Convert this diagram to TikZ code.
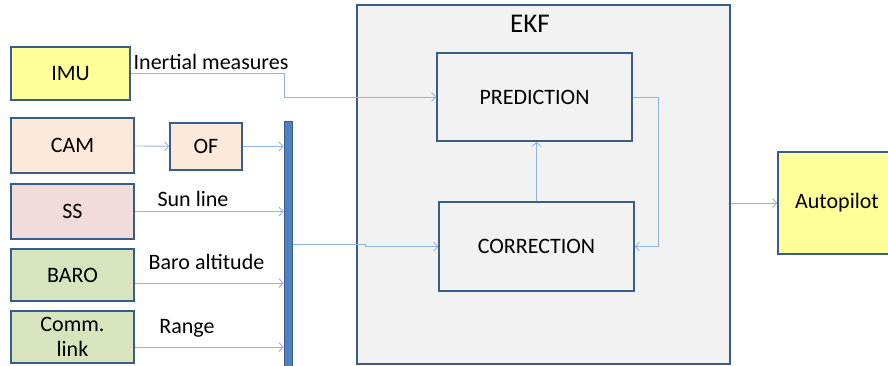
\documentclass[tikz,border=0pt]{standalone}
\usepackage{fontspec}
\setmainfont{Carlito}
\usetikzlibrary{arrows.meta}
\definecolor{boxline}{HTML}{385D8A}
\definecolor{flowline}{HTML}{8EB4E3}
\definecolor{busblue}{HTML}{4F81BD}
\definecolor{ekfgray}{HTML}{F2F2F2}
\definecolor{imuyellow}{HTML}{FFFF99}
\definecolor{campeach}{HTML}{FDE9D9}
\definecolor{sspink}{HTML}{F2DCDB}
\definecolor{barogreen}{HTML}{D7E4BD}
\begin{document}
\begin{tikzpicture}[x=1pt, y=-1pt, font=\fontsize{22}{25}\selectfont,
          >={Straight Barb[length=4pt,width=9pt]},
          block/.style={draw=boxline, line width=1.6pt, inner sep=0pt, align=center},
          flow/.style={->, draw=flowline, line width=0.9pt},
          lbl/.style={anchor=base, inner sep=0pt}]
        \useasboundingbox (0,0) rectangle (888,365);
        \node[block, fill=ekfgray, minimum width=373, minimum height=359] (ekf) at (543.5,184.5) {};
        \node[lbl, font=\fontsize{27}{30}\selectfont] (ekflabel) at (530,32) {EKF};
        \node[block, fill=ekfgray, minimum width=195, minimum height=88] (pred) at (534.5,97) {PREDICTION};
        \node[block, fill=ekfgray, minimum width=195, minimum height=89] (corr) at (536.5,246.5) {CORRECTION};
        \node[block, fill=imuyellow, minimum width=118, minimum height=102] (auto) at (837,203) {Autopilot};
        \node[block, fill=imuyellow, minimum width=119, minimum height=53] (imu) at (70.5,73.5) {IMU};
        \node[block, fill=campeach, minimum width=123, minimum height=55] (cam) at (72.5,145.5) {CAM};
        \node[block, fill=campeach, minimum width=72, minimum height=47] (of) at (206,146.5) {OF};
        \node[block, fill=sspink, minimum width=123, minimum height=55] (ss) at (72.5,211.5) {SS};
        \node[block, fill=barogreen, minimum width=123, minimum height=52] (baro) at (72.5,275) {BARO};
        \node[block, fill=barogreen, minimum width=123, minimum height=52] (comm) at (72.5,337) {Comm.\\link};
        \node[block, fill=busblue, line width=1pt, minimum width=8, minimum height=246] (bus) at (288,244) {};
        \node[lbl] (inertial) at (211,69) {Inertial measures};
        \node[lbl] (sunline) at (193,206) {Sun line};
        \node[lbl] (baroalt) at (206.5,269) {Baro altitude};
        \node[lbl] (range) at (187,333) {Range};
        \draw[flow] (imu.east) -- ++(154,0) |- (pred.west);
        \draw[flow] (cam) -- (of);
        \draw[flow] (of.east) -- (of.east -| bus.west);
        \draw[flow] (ss.east) -- (ss.east -| bus.west);
        \draw[flow] ([yshift=-8pt]baro.east) -- ([yshift=-8pt]baro.east -| bus.west);
        \draw[flow] ([yshift=-10pt]comm.east) -- ([yshift=-10pt]comm.east -| bus.west);
        \draw[flow] (bus.east |- 0,244) -- (365,244) |- (corr.west);
        \draw[flow] (corr.north) -- (corr.north |- pred.south);
        \draw[flow] (pred.east) -- ++(26,0) |- (corr.east);
        \draw[flow] (ekf.east |- auto.west) -- (auto.west);
      \end{tikzpicture}
\end{document}
